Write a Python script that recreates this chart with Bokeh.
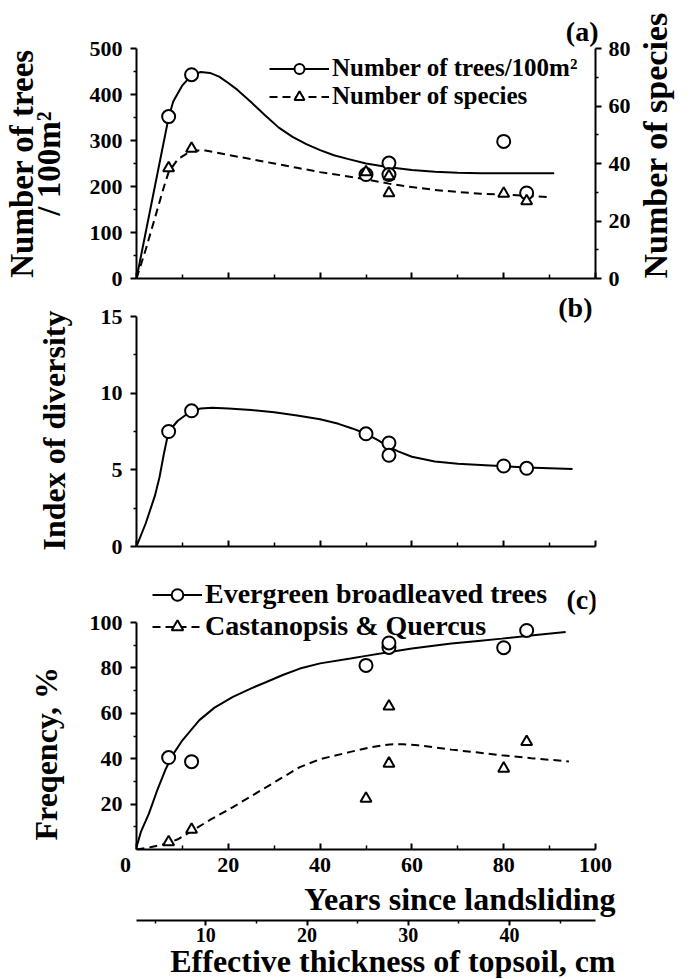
import math
from bokeh.plotting import figure
from bokeh.models import (Range1d, LinearAxis, Legend, LegendItem, Label, FixedTicker, Title)
from bokeh.layouts import column
from bokeh.embed import file_html
from bokeh.resources import INLINE

FONT = "Liberation Serif"

# ---------------- Panel (a) ----------------
trees_x = [7, 12, 50, 55, 55, 80, 85]
trees_y = [352, 443, 226, 251, 226, 298, 186]
species_x = [7, 12, 50, 55, 55, 80, 85]
species_y = [38.4, 45.2, 37.0, 35.6, 29.7, 29.5, 26.9]
trees_curve_x = [0, 2, 4, 6, 7, 8, 10, 12, 14, 16, 18, 20, 22, 25, 28, 31, 34, 37, 40,
                 43, 46, 50, 55, 60, 65, 70, 75, 80, 85, 91]
trees_curve_y = [0, 100, 200, 300, 350, 385, 420, 442, 449, 447, 439, 425, 410, 383, 355,
                 328, 308, 292, 279, 268, 260, 250, 242, 236, 232, 230, 229, 229, 229, 229]
species_curve_x = [0, 2, 4, 6, 7, 9, 12, 15, 20, 25, 30, 35, 40, 45, 50, 55, 60, 65, 70,
                   75, 80, 85, 90]
species_curve_y = [0, 10, 21, 32, 37, 41.5, 44.5, 44.5, 43, 41.5, 40, 38.5, 37, 35.8, 34.5,
                   33, 31.8, 30.8, 30.1, 29.5, 29.2, 28.7, 28.3]

# ---------------- Panel (b) ----------------
div_x = [7, 12, 50, 55, 55, 80, 85]
div_y = [7.5, 8.85, 7.35, 6.75, 5.95, 5.25, 5.1]
div_curve_x = [0, 2, 4, 5, 6, 7, 9, 12, 14, 16.5, 20, 25, 30, 35, 40, 44, 47, 50, 52.5,
               55, 57, 60, 65, 70, 76, 85, 95]
div_curve_y = [0, 1.5, 3.3, 4.5, 6.1, 7.5, 8.2, 8.85, 9.0, 9.05, 9.0, 8.9, 8.75, 8.55, 8.3,
               8.0, 7.7, 7.35, 6.95, 6.5, 6.2, 5.85, 5.55, 5.4, 5.3, 5.15, 5.05]

# ---------------- Panel (c) ----------------
ever_x = [7, 12, 50, 55, 55, 80, 85]
ever_y = [40.5, 38.7, 81.1, 89.0, 91.0, 88.9, 96.5]
cq_x = [7, 12, 50, 55, 55, 80, 85]
cq_y = [3.3, 8.8, 22.4, 63.1, 37.9, 35.7, 47.4]
ever_curve_x = [0, 1, 2.7, 4.5, 6.4, 8, 10, 13.7, 17, 21, 25, 28.3, 32, 35.6, 40, 46.6, 50,
                55.2, 60, 68.6, 75, 79.6, 87, 93.5]
ever_curve_y = [1, 8, 15.8, 26, 35.6, 42, 48.1, 57, 62.5, 67.2, 71, 73.8, 77, 79.7, 82, 84.1,
                85.3, 87, 88.5, 90.7, 92, 92.9, 94.5, 95.8]
cq_curve_x = [0, 3, 6.4, 9, 12.1, 16, 21, 25, 28.3, 32, 35.6, 40, 46.6, 51, 55.2, 58, 61.3,
              65, 68.6, 74, 79.6, 86, 94.2]
cq_curve_y = [0, 1, 2.4, 4.5, 8.2, 13, 18.7, 23.5, 27.5, 32, 36.3, 39.8, 43, 45, 46.3, 46.4,
              45.9, 45, 44, 42.8, 41.5, 40.2, 38.8]

year_ticks = [0, 20, 40, 60, 80, 100]
year_minor = [10, 30, 50, 70, 90]
soil_ticks = [10, 20, 30, 40]
soil_minor = [5, 15, 25, 35, 45]

TICK_FS = "22px"
LABEL_FS = "32px"
DASH = "8 5"


def make_fig(frame_h, top, bottom, y0, y1, title_loc=None):
    p = figure(frame_width=459, frame_height=frame_h,
               x_range=Range1d(0, 100), y_range=Range1d(y0, y1),
               output_backend="svg", toolbar_location=None,
               x_axis_type=None, y_axis_type=None, title_location=title_loc,
               min_border_left=134, min_border_right=98,
               min_border_top=top, min_border_bottom=bottom)
    p.outline_line_color = None
    p.background_fill_color = "white"
    return p


def style_axis(ax):
    ax.axis_line_width = 2
    ax.axis_line_color = "black"
    ax.major_tick_line_width = 2
    ax.minor_tick_line_width = 1.5
    ax.major_label_text_font = FONT
    ax.major_label_text_font_style = "bold"
    ax.major_label_text_font_size = TICK_FS
    ax.major_label_text_color = "black"
    ax.axis_label_text_font = FONT
    ax.axis_label_text_font_style = "bold"
    ax.axis_label_text_font_size = LABEL_FS
    ax.axis_label_text_color = "black"


def x_axis_plain():
    ax = LinearAxis(ticker=FixedTicker(ticks=year_ticks, minor_ticks=year_minor))
    style_axis(ax)
    ax.major_tick_in = 6
    ax.major_tick_out = 0
    ax.minor_tick_in = 4
    ax.minor_tick_out = 0
    ax.major_label_standoff = 0
    ax.major_label_text_font_size = "1px"
    ax.major_label_overrides = {t: "" for t in year_ticks}
    return ax


def y_axis(ticks, minor, bounds="auto", label=None):
    ax = LinearAxis(ticker=FixedTicker(ticks=ticks, minor_ticks=minor), bounds=bounds)
    if label is not None:
        ax.axis_label = label
    style_axis(ax)
    ax.major_tick_in = 0
    ax.major_tick_out = 6
    ax.minor_tick_in = 0
    ax.minor_tick_out = 3
    ax.major_label_standoff = 8
    return ax


def side_title(text, fs, align, offset, valign, standoff):
    return Title(text=text, align=align, offset=offset, vertical_align=valign,
                 standoff=standoff, text_font=FONT, text_font_style="bold",
                 text_font_size=fs, text_color="black")


def style_legend(leg, gw, gh, fs):
    leg.border_line_color = None
    leg.background_fill_alpha = 0
    leg.padding = 0
    leg.margin = 0
    leg.spacing = 0
    leg.glyph_width = gw
    leg.glyph_height = gh
    leg.label_height = gh
    leg.label_standoff = 3
    leg.label_text_font = FONT
    leg.label_text_font_style = "bold"
    leg.label_text_font_size = fs
    leg.label_text_color = "black"


# ======== (a) ========
pa = make_fig(230, 48, 13, 0, 500, title_loc="above")
pa.title.text = "(a)"
pa.title.align = "right"
pa.title.vertical_align = "top"
pa.title.standoff = 0
pa.title.offset = -3
pa.title.text_font = FONT
pa.title.text_font_style = "bold"
pa.title.text_font_size = "28px"
pa.title.text_color = "black"
pa.extra_y_ranges = {"sp": Range1d(0, 80)}
pa.add_layout(x_axis_plain(), "below")
ya = y_axis([0, 100, 200, 300, 400, 500], [50, 150, 250, 350, 450],
            label="Number of trees\n/ 100m²")
ya.axis_label_text_line_height = 0.75
ya.axis_label_text_font_size = "33px"
ya.axis_label_standoff = 20
pa.add_layout(ya, "left")
yr = LinearAxis(y_range_name="sp",
                ticker=FixedTicker(ticks=[0, 20, 40, 60, 80], minor_ticks=[10, 30, 50, 70]),
                axis_label="Number of species")
style_axis(yr)
yr.major_tick_in = 0
yr.major_tick_out = 6
yr.minor_tick_in = 0
yr.minor_tick_out = 3
yr.major_label_standoff = 7
yr.axis_label_standoff = 22
yr.axis_label_text_font_size = "34px"
yr.axis_label_orientation = math.pi / 2
yr.axis_label_align = "start"
pa.add_layout(yr, "right")

ra1 = pa.line(trees_curve_x, trees_curve_y, line_color="black", line_width=2)
ra2 = pa.line(species_curve_x, species_curve_y, y_range_name="sp",
              line_color="black", line_width=2, line_dash=DASH)
ra3 = pa.scatter(trees_x, trees_y, marker="circle", size=13, fill_color="white",
                 line_color="black", line_width=2)
ra4 = pa.scatter(species_x, species_y, y_range_name="sp", marker="triangle", size=11,
                 fill_color="white", line_color="black", line_width=2)
leg_a = Legend(items=[LegendItem(label="Number of trees/100m²", renderers=[ra1, ra3]),
                      LegendItem(label="Number of species", renderers=[ra2, ra4])],
               location=(133, 168))
style_legend(leg_a, 60, 25, "25px")
pa.add_layout(leg_a)

# ======== (b) ========
pb = make_fig(249, 6, 13, 0, 16.24)
pb.add_layout(x_axis_plain(), "below")
pb.add_layout(y_axis([0, 5, 10, 15], [2.5, 7.5, 12.5], (0, 15)), "left")
pb.add_layout(side_title("Index of diversity", LABEL_FS, "left", -4, "bottom", 52), "left")
pb.line(div_curve_x, div_curve_y, line_color="black", line_width=2)
pb.scatter(div_x, div_y, marker="circle", size=13, fill_color="white",
           line_color="black", line_width=2)
pb.add_layout(Label(x=100, y=15, text="(b)", x_offset=-3, y_offset=9,
                    text_align="right", text_baseline="alphabetic",
                    text_font=FONT, text_font_style="bold",
                    text_font_size="28px", text_color="black"))

# ======== (c) ========
pc = make_fig(277, 13, 128, 0, 122.03)
pc.extra_x_ranges = {"soil": Range1d(3.15, 48.5)}
xc = LinearAxis(ticker=FixedTicker(ticks=year_ticks, minor_ticks=year_minor))
style_axis(xc)
xc.major_tick_in = 6
xc.major_tick_out = 0
xc.minor_tick_in = 4
xc.minor_tick_out = 0
xc.major_label_standoff = 2
xc.major_label_overrides = {0: "0\u2003"}
pc.add_layout(xc, "below")
pc.add_layout(side_title("Years since landsliding", "32px", "right", -20, "top", 3), "below")
xs = LinearAxis(x_range_name="soil",
                ticker=FixedTicker(ticks=soil_ticks, minor_ticks=soil_minor))
style_axis(xs)
xs.major_tick_in = 0
xs.major_tick_out = 5
xs.minor_tick_in = 0
xs.minor_tick_out = 3
xs.major_label_standoff = 2
xs.major_label_text_font_size = "20px"
pc.add_layout(xs, "below")
pc.add_layout(side_title("Effective thickness of topsoil, cm", "32px", "right", -20, "top", -4),
              "below")
pc.add_layout(y_axis([20, 40, 60, 80, 100], [10, 30, 50, 70, 90], (0, 100)), "left")
pc.add_layout(side_title("Freqency, %", LABEL_FS, "left", 9, "bottom", 46), "left")

rc1 = pc.line(ever_curve_x, ever_curve_y, line_color="black", line_width=2)
rc2 = pc.line(cq_curve_x, cq_curve_y, line_color="black", line_width=2, line_dash=DASH)
rc3 = pc.scatter(ever_x, ever_y, marker="circle", size=13, fill_color="white",
                 line_color="black", line_width=2)
rc4 = pc.scatter(cq_x, cq_y, marker="triangle", size=11, fill_color="white",
                 line_color="black", line_width=2)
leg_c = Legend(items=[LegendItem(label="Evergreen broadleaved trees", renderers=[rc1, rc3]),
                      LegendItem(label="Castanopsis & Quercus", renderers=[rc2, rc4])],
               location=(16, 207))
style_legend(leg_c, 50, 29, "28px")
pc.add_layout(leg_c)
pc.add_layout(Label(x=100, y=100, text="(c)", x_offset=2, y_offset=23,
                    text_align="right", text_baseline="alphabetic",
                    text_font=FONT, text_font_style="bold",
                    text_font_size="28px", text_color="black"))

layout = column(pa, pb, pc)
open("out.html", "w").write(file_html(layout, INLINE))
